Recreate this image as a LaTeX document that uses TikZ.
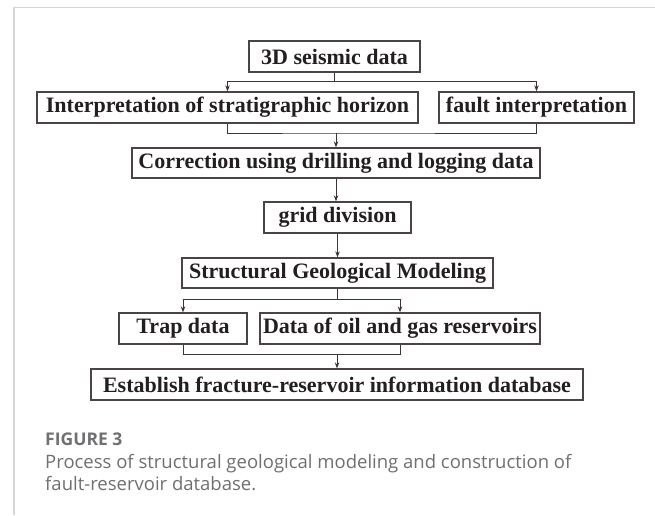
\documentclass[tikz,border=0pt]{standalone}
\usepackage{fontspec}
\setmainfont{Liberation Serif}
\newfontfamily\boxfont{Liberation Serif}
\newfontfamily\capfont{Open Sans}
\usetikzlibrary{arrows.meta}
\definecolor{boxline}{HTML}{4A4444}
\definecolor{conn}{HTML}{3A3636}
\definecolor{txt}{HTML}{231F20}
\definecolor{frame}{HTML}{D6D6D6}
\definecolor{capgray}{HTML}{707072}
\begin{document}
\begin{tikzpicture}[x=1pt,y=-1pt,
  stepbox/.style={draw=boxline,line width=1.3pt,rectangle,inner sep=0pt,
    text=txt,font=\boxfont\bfseries\fontsize{22}{24}\selectfont},
  conline/.style={draw=conn,line width=1pt},
  arr/.style={conline,-{Stealth[length=6pt,width=4.5pt]}},
  captext/.style={anchor=base west,inner sep=0pt,text=capgray,font=\capfont\fontsize{18.5}{22}\selectfont}]
\useasboundingbox (0,0) rectangle (655,515);
\fill[white] (0,0) rectangle (655,515);
\draw[frame,line width=1.5pt] (14,515) -- (14,7.5) -- (655,7.5);
\node[stepbox,minimum width=171pt,minimum height=31pt] (d3) at (334.5,56.5) {3D seismic data};
\node[stepbox,minimum width=381pt,minimum height=31pt] (interp) at (227.5,107.5) {Interpretation of stratigraphic horizon};
\node[stepbox,minimum width=195pt,minimum height=31pt] (fault) at (536.5,107.5) {fault interpretation};
\node[stepbox,minimum width=408pt,minimum height=30pt] (corr) at (336,163) {Correction using drilling and logging data};
\node[stepbox,minimum width=147pt,minimum height=31pt] (grid) at (337.5,217.5) {grid division};
\node[stepbox,minimum width=311pt,minimum height=30pt] (sgm) at (337.5,273) {Structural Geological Modeling};
\node[stepbox,minimum width=128pt,minimum height=31pt] (trap) at (183,328.5) {Trap data};
\node[stepbox,minimum width=280pt,minimum height=31pt] (data) at (400,328.5) {Data of oil and gas reservoirs};
\node[stepbox,minimum width=492pt,minimum height=31pt] (est) at (337,384.5) {Establish fracture-reservoir information database};
\coordinate (s1) at (334.5,81);
\coordinate (m1) at (336,133);
\coordinate (s2) at (337.5,299);
\coordinate (m2) at (337,354);
\draw[conline] (d3.south) -- (s1);
\draw[arr] (s1) -| (interp.north);
\draw[arr] (s1) -| (fault.north);
\draw[conline] (interp.south) |- (m1) -| (fault.south);
\draw[arr] (m1) -- (corr.north);
\draw[arr] (corr.south) -- (corr.south |- grid.north);
\draw[arr] (grid.south) -- (grid.south |- sgm.north);
\draw[conline] (sgm.south) -- (s2);
\draw[arr] (s2) -| (trap.north);
\draw[arr] (s2) -| (data.north);
\draw[conline] (trap.south) |- (m2) -| (data.south);
\draw[arr] (m2) -- (est.north);
\node[captext,font=\capfont\bfseries\fontsize{17.5}{22}\selectfont] (fig) at (45,445) {FIGURE 3};
\node[captext] (cap1) at (45,468) {Process of structural geological modeling and construction of};
\node[captext] (cap2) at (45,490) {fault-reservoir database.};
\end{tikzpicture}
\end{document}
